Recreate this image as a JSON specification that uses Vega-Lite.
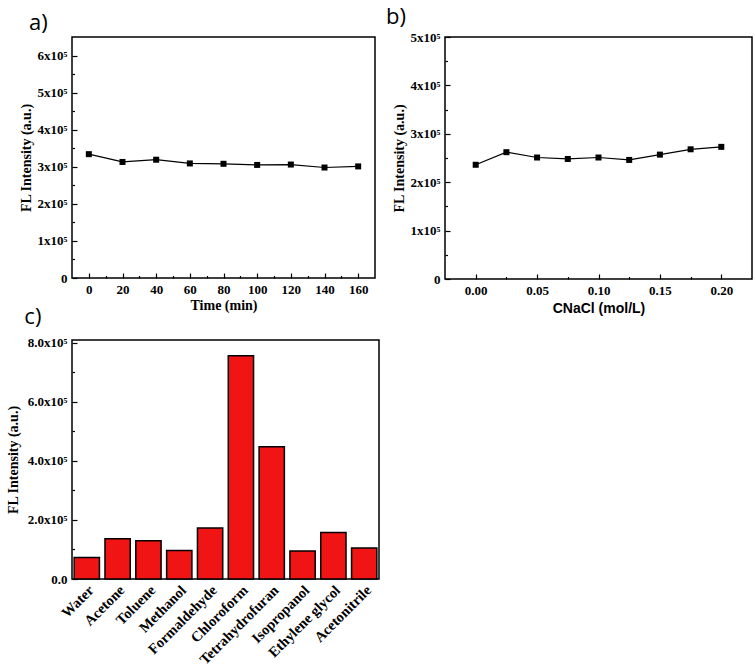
{
  "$schema": "https://vega.github.io/schema/vega-lite/v6.json",
  "background": "white",
  "padding": {"left": 5, "top": 5, "right": 2, "bottom": 2},
  "spacing": -11,
  "config": {
    "view": {"stroke": "black", "strokeWidth": 1.5},
    "axis": {
      "domain": false,
      "grid": false,
      "labelFont": "Liberation Serif",
      "labelFontWeight": "bold",
      "labelFontSize": 13,
      "labelColor": "black",
      "titleFont": "Liberation Serif",
      "titleFontWeight": "bold",
      "titleFontSize": 14,
      "titleColor": "black",
      "tickColor": "black",
      "tickWidth": 1.2,
      "labelPadding": 10
    },
    "title": {"font": "Open Sans", "fontSize": 22, "fontWeight": "normal", "anchor": "start", "color": "black"}
  },
  "datasets": {
    "time": [
      {"time": 0, "intensity": 334000},
      {"time": 20, "intensity": 313000},
      {"time": 40, "intensity": 319000},
      {"time": 60, "intensity": 309000},
      {"time": 80, "intensity": 308000},
      {"time": 100, "intensity": 305000},
      {"time": 120, "intensity": 306000},
      {"time": 140, "intensity": 298000},
      {"time": 160, "intensity": 301000}
    ],
    "nacl": [
      {"c": 0.0, "intensity": 236000},
      {"c": 0.025, "intensity": 262000},
      {"c": 0.05, "intensity": 251000},
      {"c": 0.075, "intensity": 248000},
      {"c": 0.1, "intensity": 251000},
      {"c": 0.125, "intensity": 246000},
      {"c": 0.15, "intensity": 257000},
      {"c": 0.175, "intensity": 268000},
      {"c": 0.2, "intensity": 273000}
    ],
    "solvent": [
      {"solvent": "Water", "intensity": 73000},
      {"solvent": "Acetone", "intensity": 136000},
      {"solvent": "Toluene", "intensity": 130000},
      {"solvent": "Methanol", "intensity": 97000},
      {"solvent": "Formaldehyde", "intensity": 173000},
      {"solvent": "Chloroform", "intensity": 757000},
      {"solvent": "Tetrahydrofuran", "intensity": 448000},
      {"solvent": "Isopropanol", "intensity": 95000},
      {"solvent": "Ethylene glycol", "intensity": 158000},
      {"solvent": "Acetonitrile", "intensity": 105000}
    ]
  },
  "vconcat": [
    {
      "spacing": 9,
      "hconcat": [
        {
          "width": 303,
          "height": 241,
          "title": {"text": "a)", "dx": 10, "offset": 2},
          "data": {"name": "time"},
          "mark": {"type": "line", "color": "black", "strokeWidth": 1.2, "point": {"shape": "square", "size": 36, "filled": true, "color": "black"}},
          "encoding": {
            "x": {
              "field": "time", "type": "quantitative",
              "scale": {"domain": [-10, 170], "nice": false, "zero": false},
              "axis": {
                "title": "Time (min)",
                "values": [0, 10, 20, 30, 40, 50, 60, 70, 80, 90, 100, 110, 120, 130, 140, 150, 160],
                "labelExpr": "datum.value % 20 == 0 ? datum.value + '' : ''",
                "tickSize": {"condition": {"test": "datum.value % 20 != 0", "value": -2.5}, "value": -5},
                "titlePadding": 2
              }
            },
            "y": {
              "field": "intensity", "type": "quantitative",
              "scale": {"domain": [0, 650000], "nice": false},
              "axis": {
                "title": "FL Intensity (a.u.)",
                "values": [0, 50000, 100000, 150000, 200000, 250000, 300000, 350000, 400000, 450000, 500000, 550000, 600000],
                "labelExpr": "datum.value % 100000 != 0 ? '' : datum.value == 0 ? '0' : (datum.value / 100000) + 'x10⁵'",
                "tickSize": {"condition": {"test": "datum.value % 100000 != 0", "value": -2.5}, "value": -5},
                "titlePadding": 4
              }
            }
          }
        },
        {
          "width": 307,
          "height": 242,
          "title": {"text": "b)", "dx": -6, "offset": 2},
          "data": {"name": "nacl"},
          "mark": {"type": "line", "color": "black", "strokeWidth": 1.2, "point": {"shape": "square", "size": 36, "filled": true, "color": "black"}},
          "encoding": {
            "x": {
              "field": "c", "type": "quantitative",
              "scale": {"domain": [-0.025, 0.225], "nice": false, "zero": false},
              "axis": {
                "title": "CNaCl (mol/L)",
                "titleFont": "Liberation Sans",
                "values": [0, 0.025, 0.05, 0.075, 0.1, 0.125, 0.15, 0.175, 0.2],
                "labelExpr": "round(datum.value * 1000) % 50 != 0 ? '' : format(datum.value, '.2f')",
                "tickSize": {"condition": {"test": "round(datum.value * 1000) % 50 != 0", "value": -2.5}, "value": -5},
                "titlePadding": 4
              }
            },
            "y": {
              "field": "intensity", "type": "quantitative",
              "scale": {"domain": [0, 500000], "nice": false},
              "axis": {
                "title": "FL Intensity (a.u.)",
                "values": [0, 50000, 100000, 150000, 200000, 250000, 300000, 350000, 400000, 450000, 500000],
                "labelExpr": "datum.value % 100000 != 0 ? '' : datum.value == 0 ? '0' : (datum.value / 100000) + 'x10⁵'",
                "tickSize": {"condition": {"test": "datum.value % 100000 != 0", "value": -2.5}, "value": -5},
                "titlePadding": 4
              }
            }
          }
        }
      ]
    },
    {
      "width": 307,
      "height": 239,
      "title": {"text": "c)", "dx": 18, "offset": 8},
      "data": {"name": "solvent"},
      "mark": {"type": "bar", "color": "#f01414", "stroke": "black", "strokeWidth": 1.5},
      "encoding": {
        "x": {
          "field": "solvent", "type": "nominal", "sort": null,
          "scale": {"paddingInner": 0.18, "paddingOuter": 0.07},
          "axis": {"title": null, "labelAngle": -45, "ticks": false, "labelPadding": 4, "labelFontSize": 14.5}
        },
        "y": {
          "field": "intensity", "type": "quantitative",
          "scale": {"domain": [0, 810000], "nice": false},
          "axis": {
            "title": "FL Intensity (a.u.)",
            "values": [0, 100000, 200000, 300000, 400000, 500000, 600000, 700000, 800000],
            "labelExpr": "datum.value % 200000 != 0 ? '' : datum.value == 0 ? '0.0' : format(datum.value / 100000, '.1f') + 'x10⁵'",
            "tickSize": {"condition": {"test": "datum.value % 200000 != 0", "value": -2.5}, "value": -5},
            "titlePadding": 7
          }
        }
      }
    }
  ]
}
